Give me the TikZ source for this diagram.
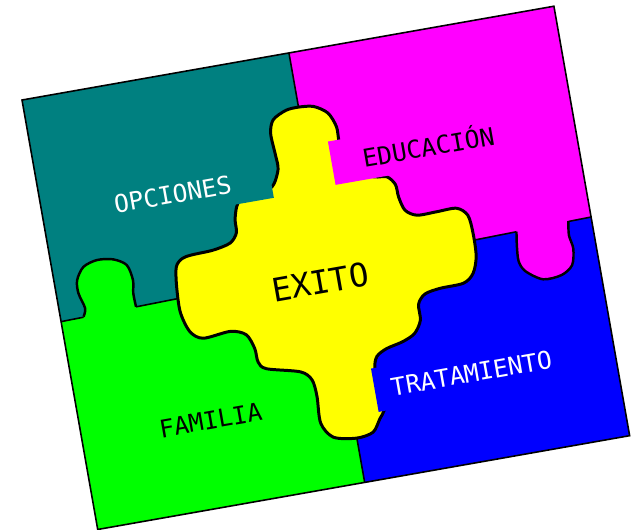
\documentclass[tikz,border=0pt]{standalone}
\usepackage{fontspec}
\usepackage{tikz}
\newfontfamily\puzzlefont{DejaVu Sans Mono}
\definecolor{tealpiece}{RGB}{0,128,128}
\definecolor{magentapiece}{RGB}{255,0,255}
\definecolor{greenpiece}{RGB}{0,255,0}
\definecolor{bluepiece}{RGB}{0,0,255}
\definecolor{yellowpiece}{RGB}{255,255,0}
\tikzstyle{divider} = [draw=black, line width=0.9pt]
\tikzstyle{knob} = [draw=black, line width=1.4pt]
\tikzstyle{centre} = [fill=yellowpiece, draw=black, line width=1.7pt]
\tikzstyle{word} = [rotate=10, anchor=base, font=\puzzlefont\fontsize{14}{16}\selectfont]
\tikzstyle{bigword} = [word, font=\puzzlefont\fontsize{18.5}{20}\selectfont]

\begin{document}
\begin{tikzpicture}
\useasboundingbox (0,0) rectangle (12.62,-10.58);
\begin{scope}[shift={(0.44cm,-2cm)}, rotate=10, x=0.02cm, y=-0.02cm]
\fill[tealpiece] (0,0) -- (271,0) -- (271,219.5) -- (0,225) -- cycle;
\fill[magentapiece] (271,0) -- (540,0) -- (540,214) -- (271,219.5) -- cycle;
\fill[greenpiece] (0,225) -- (271,219.5) -- (271,436) -- (0,436) -- cycle;
\fill[bluepiece] (271,219.5) -- (540,214) -- (540,436) -- (271,436) -- cycle;
\draw[divider] (271,0) -- (271,436);
\draw[divider] (0,225) -- (540,214);

\fill[greenpiece] (23,228) -- plot[smooth] coordinates {(23,224) (26,216) (22,200) (23,187) (31.5,175) (46,170.6) (62,172.7) (74.5,180.7) (78,196.6) (76,209.7) (76.4,223.4)} -- (76.4,228) -- cycle;
\draw[knob] plot[smooth] coordinates {(23,224) (26,216) (22,200) (23,187) (31.5,175) (46,170.6) (62,172.7) (74.5,180.7) (78,196.6) (76,209.7) (76.4,223.4)};

\fill[magentapiece] (464,211) -- plot[smooth] coordinates {(464,215.5) (462,229) (461,245) (466,256) (482,267) (501,266) (513,258) (517,242) (515,228) (517,214)} -- (517,211) -- cycle;
\draw[knob] plot[smooth] coordinates {(464,215.5) (462,229) (461,245) (466,256) (482,267) (501,266) (513,258) (517,242) (515,228) (517,214)};

\draw[centre] plot[smooth cycle] coordinates {
  (231,129) (240,113) (240,98) (239,76) (244,63) (258,56) (271,55) (286,57)
  (299,66) (305,81) (305,96) (308,115) (318,130) (334,137) (346,139) (353,148)
  (354,161) (358,175) (369,182) (389,182) (409,182) (419,191) (421,210) (420,233)
  (414,249) (403,257) (379,258) (363,261) (355,270) (354,286) (346,298) (333,304)
  (316,308) (305,314) (301,325) (305,338) (307,354) (303,368) (297,376) (288,388)
  (271,391) (248,386) (238,370) (239,343) (237,326) (227,316) (194,307) (187,299)
  (186,285) (180,270) (165,264) (137,266) (125,257) (119,236) (120,209) (123,191)
  (130,184) (140,182) (162,181) (180,177) (188,168) (189,155) (193,142) (200,134)
  (215,130)};

\fill[tealpiece] (185,100) rectangle (231,140);
\fill[magentapiece] (294,94) rectangle (352,138);
\fill[bluepiece] (297,325) rectangle (330,369);

\draw[divider] (0,0) rectangle (540,436);

\node (opciones) [word, text=white] at (132,128) {OPCIONES};
\node (educacion) [word] at (392,126) {EDUCACIÓN};
\node (familia) [word] at (130,357) {FAMILIA};
\node (tratamiento) [word, text=white] at (395,356) {TRATAMIENTO};
\node (exito) [bigword] at (262,243) {EXITO};
\end{scope}
\end{tikzpicture}
\end{document}
